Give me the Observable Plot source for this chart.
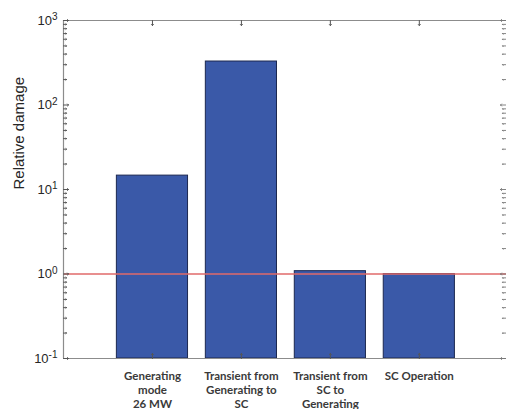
<!DOCTYPE html>
<html>
<head>
<meta charset="utf-8">
<script src="https://cdn.jsdelivr.net/npm/d3@7"></script>
<script src="https://cdn.jsdelivr.net/npm/@observablehq/plot@0.6"></script>
<style>
  html, body { margin: 0; padding: 0; background: #fff; }
</style>
</head>
<body>
<div id="chart"></div>
<script>
const categories = ["Generating\nmode\n26 MW", "Transient from\nGenerating to\nSC", "Transient from\nSC to\nGenerating", "SC Operation"];
const positions = [1, 2, 3, 4];
const damage = [14.6, 327, 1.08, 1.0];
const yMajorTicks = [0.1, 1, 10, 100, 1000];
const yExponents = ["-1", "0", "1", "2", "3"];
const referenceLevel = [1];

const data = categories.map((c, i) => ({cat: c, pos: positions[i], value: damage[i]}));
const yMinorTicks = d3.scaleLog().domain([0.1, 1000]).ticks().filter(v => !yMajorTicks.includes(v));

const axisColor = "#8c8c8c";

const chart = Plot.plot({
  width: 506,
  height: 409,
  marginLeft: 63,
  marginRight: 0,
  marginTop: 20,
  marginBottom: 51,
  x: {type: "linear", domain: [0, 4.98], axis: null},
  y: {type: "log", domain: [0.1, 1000], axis: null},
  style: {fontFamily: "Liberation Sans, Arial, sans-serif", background: "#fff"},
  marks: [
    Plot.rectY(data, {x1: d => d.pos - 0.4, x2: d => d.pos + 0.4, y1: 0.1, y2: "value", fill: "#3a59a8", stroke: "#1c2850", strokeWidth: 1}),
    Plot.ruleY(referenceLevel, {stroke: "#e06a6a", strokeWidth: 1.3}),
    // box lines
    Plot.ruleY([1000], {stroke: axisColor, strokeWidth: 1.2}),
    Plot.ruleY([0.1], {stroke: axisColor, strokeWidth: 1.2}),
    Plot.ruleX([0], {stroke: axisColor, strokeWidth: 1.2}),
    // y ticks (inward)
    Plot.vector(yMajorTicks, {y: d => d, frameAnchor: "left", rotate: 90, length: 5, anchor: "start", stroke: "#555", strokeWidth: 1}),
    Plot.vector(yMinorTicks, {y: d => d, frameAnchor: "left", rotate: 90, length: 3, anchor: "start", stroke: "#555", strokeWidth: 1}),
    Plot.vector(yMajorTicks, {y: d => d, frameAnchor: "right", dx: -1, rotate: -90, length: 5, anchor: "start", stroke: "#777", strokeWidth: 1, strokeDasharray: "1,1"}),
    Plot.vector(yMinorTicks, {y: d => d, frameAnchor: "right", dx: -1, rotate: -90, length: 3, anchor: "start", stroke: "#777", strokeWidth: 1, strokeDasharray: "1,1"}),
    // x ticks (inward)
    Plot.vector(positions, {x: d => d, frameAnchor: "bottom", rotate: 0, length: 5, anchor: "start", stroke: "#555", strokeWidth: 1}),
    Plot.vector(positions, {x: d => d, frameAnchor: "top", rotate: 180, length: 5, anchor: "start", stroke: "#555", strokeWidth: 1}),
    // y tick labels
    Plot.axisY({ticks: yMajorTicks, label: null, tickSize: 0, tickPadding: 6, tickFormat: d => "10^" + yExponents[yMajorTicks.indexOf(d)], fontSize: 13, fill: "#262626"}),
    // x tick labels
    Plot.axisX({ticks: positions, label: null, tickSize: 0, tickPadding: 11, tickFormat: d => categories[d - 1], fontSize: 11.5, fontWeight: "bold", fill: "#3a3a3a", lineHeight: 1.24, fontFamily: "Lato, Open Sans, sans-serif"}),
    // y axis title
    Plot.text(["Relative damage"], {frameAnchor: "left", dx: -44, rotate: -90, fontSize: 15, fill: "#262626", text: d => d})
  ]
});

// render exponents as superscripts
chart.querySelectorAll('g[aria-label="y-axis tick label"] text').forEach(t => {
  const s = t.textContent;
  if (s.startsWith("10^")) {
    const exp = s.slice(3);
    t.textContent = "";
    const base = document.createElementNS("http://www.w3.org/2000/svg", "tspan");
    base.textContent = "10";
    const sup = document.createElementNS("http://www.w3.org/2000/svg", "tspan");
    sup.textContent = exp;
    sup.setAttribute("dy", "-0.45em");
    sup.setAttribute("font-size", "10");
    t.appendChild(base);
    t.appendChild(sup);
  }
});

document.getElementById("chart").appendChild(chart);
</script>
</body>
</html>
